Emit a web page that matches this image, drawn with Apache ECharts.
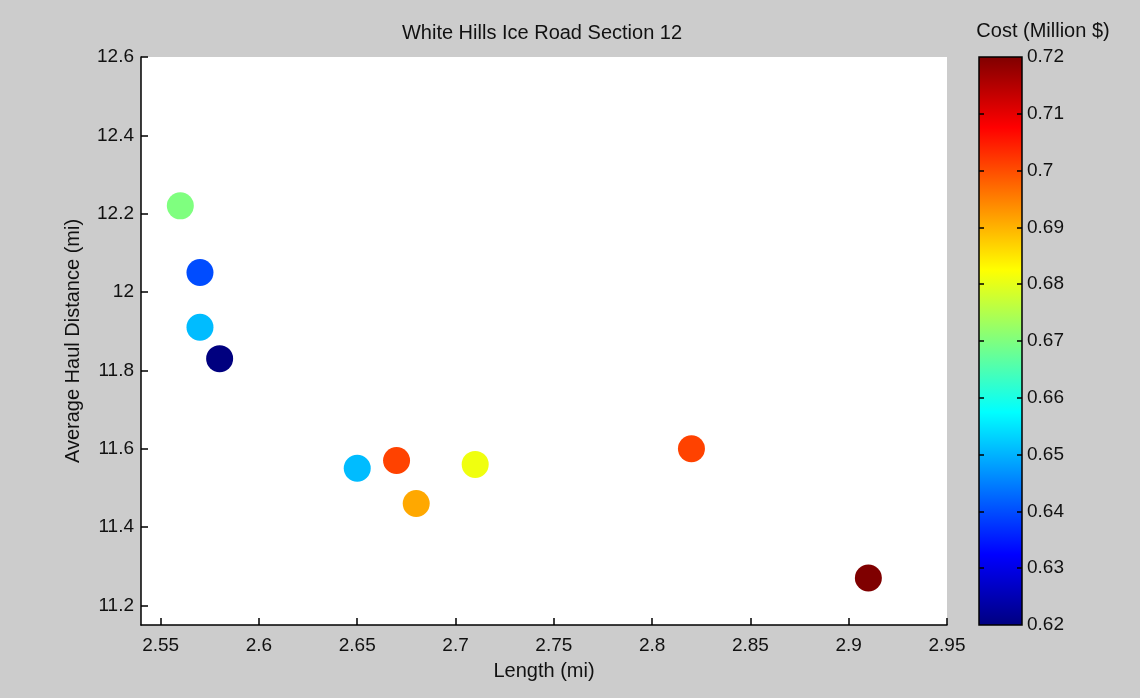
<!DOCTYPE html>
<html>
<head>
<meta charset="utf-8">
<style>
  html, body { margin: 0; padding: 0; background: #cccccc; }
  #chart { width: 1140px; height: 698px; }
</style>
<script src="https://cdn.jsdelivr.net/npm/echarts@6/dist/echarts.min.js"></script>
</head>
<body>
<div id="chart"></div>
<script>
// Road length, average haul distance and cost for each alternative
const lengthMi = [2.56, 2.57, 2.57, 2.58, 2.65, 2.67, 2.68, 2.71, 2.82, 2.91];
const haulMi   = [12.22, 12.05, 11.91, 11.83, 11.55, 11.57, 11.46, 11.56, 11.60, 11.27];
const costM    = [0.670, 0.640, 0.651, 0.620, 0.651, 0.701, 0.691, 0.681, 0.701, 0.720];

// Tick labels
const xTicks = [2.55, 2.6, 2.65, 2.7, 2.75, 2.8, 2.85, 2.9, 2.95];
const yTicks = [11.2, 11.4, 11.6, 11.8, 12, 12.2, 12.4, 12.6];
const costTicks = [0.62, 0.63, 0.64, 0.65, 0.66, 0.67, 0.68, 0.69, 0.7, 0.71, 0.72];
const costInnerTicks = costTicks.slice(1, -1);

// Jet colormap stops, evenly spaced
const jetStops = ['#00007f', '#0000ff', '#007fff', '#00ffff', '#7fff7f',
                  '#ffff00', '#ff7f00', '#ff0000', '#7f0000'];

const FONT = 'Liberation Sans, Arial, sans-serif';
const TXT = '#111111';
const BAR_W = 43;

const points = lengthMi.map((x, i) => [x, haulMi[i], costM[i]]);

// Colour bar fill: same jet stops, bottom (low cost) to top (high cost)
const barFill = new echarts.graphic.LinearGradient(0, 1, 0, 0,
  jetStops.map((c, i) => ({ offset: i / (jetStops.length - 1), color: c })));

const tickStyle = { color: '#000', width: 1.5 };

const chart = echarts.init(document.getElementById('chart'));
chart.setOption({
  backgroundColor: '#cccccc',
  animation: false,
  textStyle: { fontFamily: FONT },
  grid: [
    { left: 141, top: 57, width: 806, height: 568, show: true,
      backgroundColor: '#ffffff', borderWidth: 0 },
    { left: 979, top: 57, width: BAR_W, height: 568, show: true,
      backgroundColor: barFill, borderColor: '#000000', borderWidth: 1.5 }
  ],
  xAxis: [
    {
      type: 'value', gridIndex: 0, min: 2.54, max: 2.95,
      name: 'Length (mi)', nameLocation: 'middle', nameGap: 36,
      nameTextStyle: { fontSize: 20, color: TXT, fontFamily: FONT },
      splitLine: { show: false },
      axisLine: { show: true, onZero: false, lineStyle: { color: '#000', width: 1.5 } },
      axisTick: { show: true, inside: true, length: 7, customValues: xTicks, lineStyle: tickStyle },
      axisLabel: { customValues: xTicks, fontSize: 19, color: TXT, margin: 11,
        fontFamily: FONT, formatter: v => String(+v.toFixed(2)) }
    },
    { type: 'value', gridIndex: 1, min: 0, max: 1, show: false }
  ],
  yAxis: [
    {
      type: 'value', gridIndex: 0, min: 11.15, max: 12.6,
      name: 'Average Haul Distance (mi)', nameLocation: 'middle', nameGap: 58,
      nameRotate: 90,
      nameTextStyle: { fontSize: 20, color: TXT, fontFamily: FONT },
      splitLine: { show: false },
      axisLine: { show: true, onZero: false, lineStyle: { color: '#000', width: 1.5 } },
      axisTick: { show: true, inside: true, length: 7, customValues: yTicks, lineStyle: tickStyle },
      axisLabel: { customValues: yTicks, fontSize: 19, color: TXT, margin: 7,
        fontFamily: FONT, formatter: v => String(+v.toFixed(1)) }
    },
    // colour bar: labels on the right
    {
      type: 'value', gridIndex: 1, min: 0.62, max: 0.72,
      position: 'right',
      splitLine: { show: false },
      axisLine: { show: false },
      axisTick: { show: false },
      axisLabel: { customValues: costTicks, fontSize: 19, color: TXT, margin: 5,
        fontFamily: FONT, formatter: v => String(+v.toFixed(2)) }
    },
    // colour bar: ticks along the left edge, pointing in
    {
      type: 'value', gridIndex: 1, min: 0.62, max: 0.72,
      position: 'left',
      splitLine: { show: false },
      axisLine: { show: false },
      axisTick: { show: true, inside: true, length: 5, customValues: costInnerTicks, lineStyle: tickStyle },
      axisLabel: { show: false }
    },
    // colour bar: ticks along the right edge, pointing in
    {
      type: 'value', gridIndex: 1, min: 0.62, max: 0.72,
      position: 'left', offset: -BAR_W,
      splitLine: { show: false },
      axisLine: { show: false },
      axisTick: { show: true, inside: false, length: 5, customValues: costInnerTicks, lineStyle: tickStyle },
      axisLabel: { show: false }
    }
  ],
  visualMap: {
    type: 'continuous', show: false,
    min: costTicks[0], max: costTicks[costTicks.length - 1],
    dimension: 2, seriesIndex: 0,
    inRange: { color: jetStops }
  },
  graphic: [
    { type: 'text', x: 542, y: 33, style: { text: 'White Hills Ice Road Section 12',
      fontSize: 20, fontFamily: FONT, fill: TXT, align: 'center', verticalAlign: 'middle' } },
    { type: 'text', x: 1043, y: 31, style: { text: 'Cost (Million $)',
      fontSize: 20, fontFamily: FONT, fill: TXT, align: 'center', verticalAlign: 'middle' } }
  ],
  series: [
    {
      type: 'scatter', xAxisIndex: 0, yAxisIndex: 0,
      symbol: 'circle', symbolSize: 27,
      itemStyle: { opacity: 1 },
      data: points
    }
  ]
});
</script>
</body>
</html>
